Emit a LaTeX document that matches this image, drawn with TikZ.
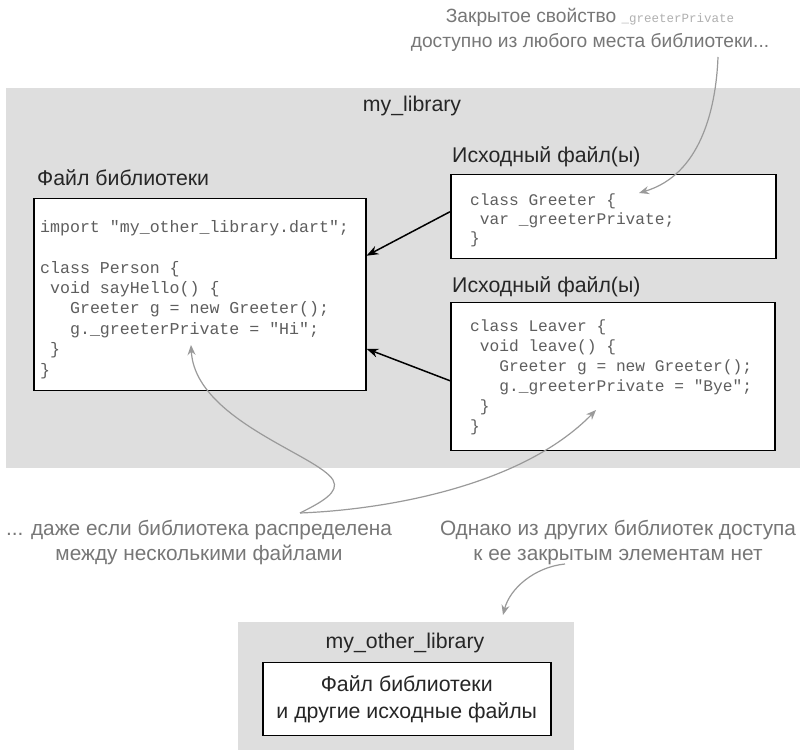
\documentclass[tikz,border=0pt]{standalone}
\usepackage{fontspec}
\setmainfont{Liberation Sans}
\setmonofont{Liberation Mono}
\usetikzlibrary{arrows.meta}
\definecolor{bg}{HTML}{DEDEDE}
\definecolor{notec}{HTML}{777777}
\definecolor{codec}{HTML}{5E5E5E}
\definecolor{hintc}{HTML}{9A9A9A}
\definecolor{lblc}{HTML}{262626}
\definecolor{lightcode}{HTML}{B0B0B0}
\begin{document}
\begin{tikzpicture}[x=1pt,y=1pt,
  region/.style={fill=bg,draw=none,inner sep=0pt,anchor=north west},
  filebox/.style={draw=black,line width=1.5pt,fill=white,inner sep=0pt,anchor=north west},
  lbl/.style={text=lblc,font=\fontsize{21.3}{27}\selectfont,inner sep=0pt,align=center},
  notetext/.style={text=notec,font=\fontsize{19.2}{25}\selectfont,align=center,inner sep=0pt},
  codetext/.style={text=codec,align=left,inner sep=0pt,anchor=north west},
  ptr/.style={-{Stealth[length=12pt,width=9pt]},line width=1.5pt,black},
  hint/.style={-{Stealth[length=10pt,width=8pt]},line width=1.2pt,hintc},
]
\useasboundingbox[fill=white] (0,0) rectangle (807,750);

% top annotation
\node[notetext] (topnote) at (590,720) {Закрытое свойство {\fontsize{12.5}{14}\ttfamily\color{lightcode}\_greeterPrivate}\\доступно из любого места библиотеки...};
\coordinate (ts) at (718,693);

% main library region
\node[region,minimum width=794pt,minimum height=380pt] (lib) at (6,662) {};
\node[lbl] (libname) at (412,644) {my\_library};

% left file
\node[lbl,anchor=west] (lbltitle) at (37,572) {Файл библиотеки};
\node[filebox,minimum width=332pt,minimum height=192pt] (lb) at (33,552) {};
\node[codetext,font=\fontsize{16.6}{20.4}\ttfamily] (lbcode) at (40,530) {import "my\_other\_library.dart";\\[20.4pt]
class Person \{\\
\ void sayHello() \{\\
\ \ \ Greeter g = new Greeter();\\
\ \ \ g.\_greeterPrivate = "Hi";\\
\ \}\\
\}};

% right top file
\node[lbl,anchor=west] (rttitle) at (452,593) {Исходный файл(ы)};
\node[filebox,minimum width=325pt,minimum height=84pt] (rt) at (450,576) {};
\node[codetext,font=\fontsize{16.2}{19}\ttfamily] (rtcode) at (470,556) {class Greeter \{\\
\ var \_greeterPrivate;\\
\}};

% right bottom file
\node[lbl,anchor=west] (rbtitle) at (452,463) {Исходный файл(ы)};
\node[filebox,minimum width=324pt,minimum height=148pt] (rb) at (450,448) {};
\node[codetext,font=\fontsize{16.2}{20}\ttfamily] (rbcode) at (470,430) {class Leaver \{\\
\ void leave() \{\\
\ \ \ Greeter g = new Greeter();\\
\ \ \ g.\_greeterPrivate = "Bye";\\
\ \}\\
\}};

% black arrows
\draw[ptr] ([yshift=5pt]rt.west) -- ([yshift=39pt]lb.east);
\draw[ptr] ([yshift=-4pt]rb.west) -- ([yshift=-54pt]lb.east);

% bottom annotations
\node[notetext,font=\fontsize{20.8}{25}\selectfont] (leftnote) at (199,207) {... даже если библиотека распределена\\между несколькими файлами};
\node[notetext,font=\fontsize{20.8}{25}\selectfont] (rightnote) at (618,207) {Однако из других библиотек доступа\\к ее закрытым элементам нет};
\coordinate (m) at (300,237);
\coordinate (bs) at (565,186);

% other library
\node[region,minimum width=336pt,minimum height=128pt] (other) at (238,128) {};
\node[lbl] (othername) at (405,107) {my\_other\_library};
\node[filebox,minimum width=288pt,minimum height=73pt] (ob) at (262,88) {};
\node[lbl] (obtext) at (ob.center) {Файл библиотеки\\и другие исходные файлы};

% grey hint arrows
\draw[hint] (ts) .. controls (716,640) and (700,575) .. (639,557);
\draw[hint] (m) .. controls (322,248) and (340,258) .. (333,270) .. controls (318,295) and (195,330) .. (191,405);
\draw[hint] (m) .. controls (380,240) and (520,262) .. (596,340);
\draw[hint] (bs) .. controls (535,183) and (510,162) .. (503,135);
\end{tikzpicture}
\end{document}
